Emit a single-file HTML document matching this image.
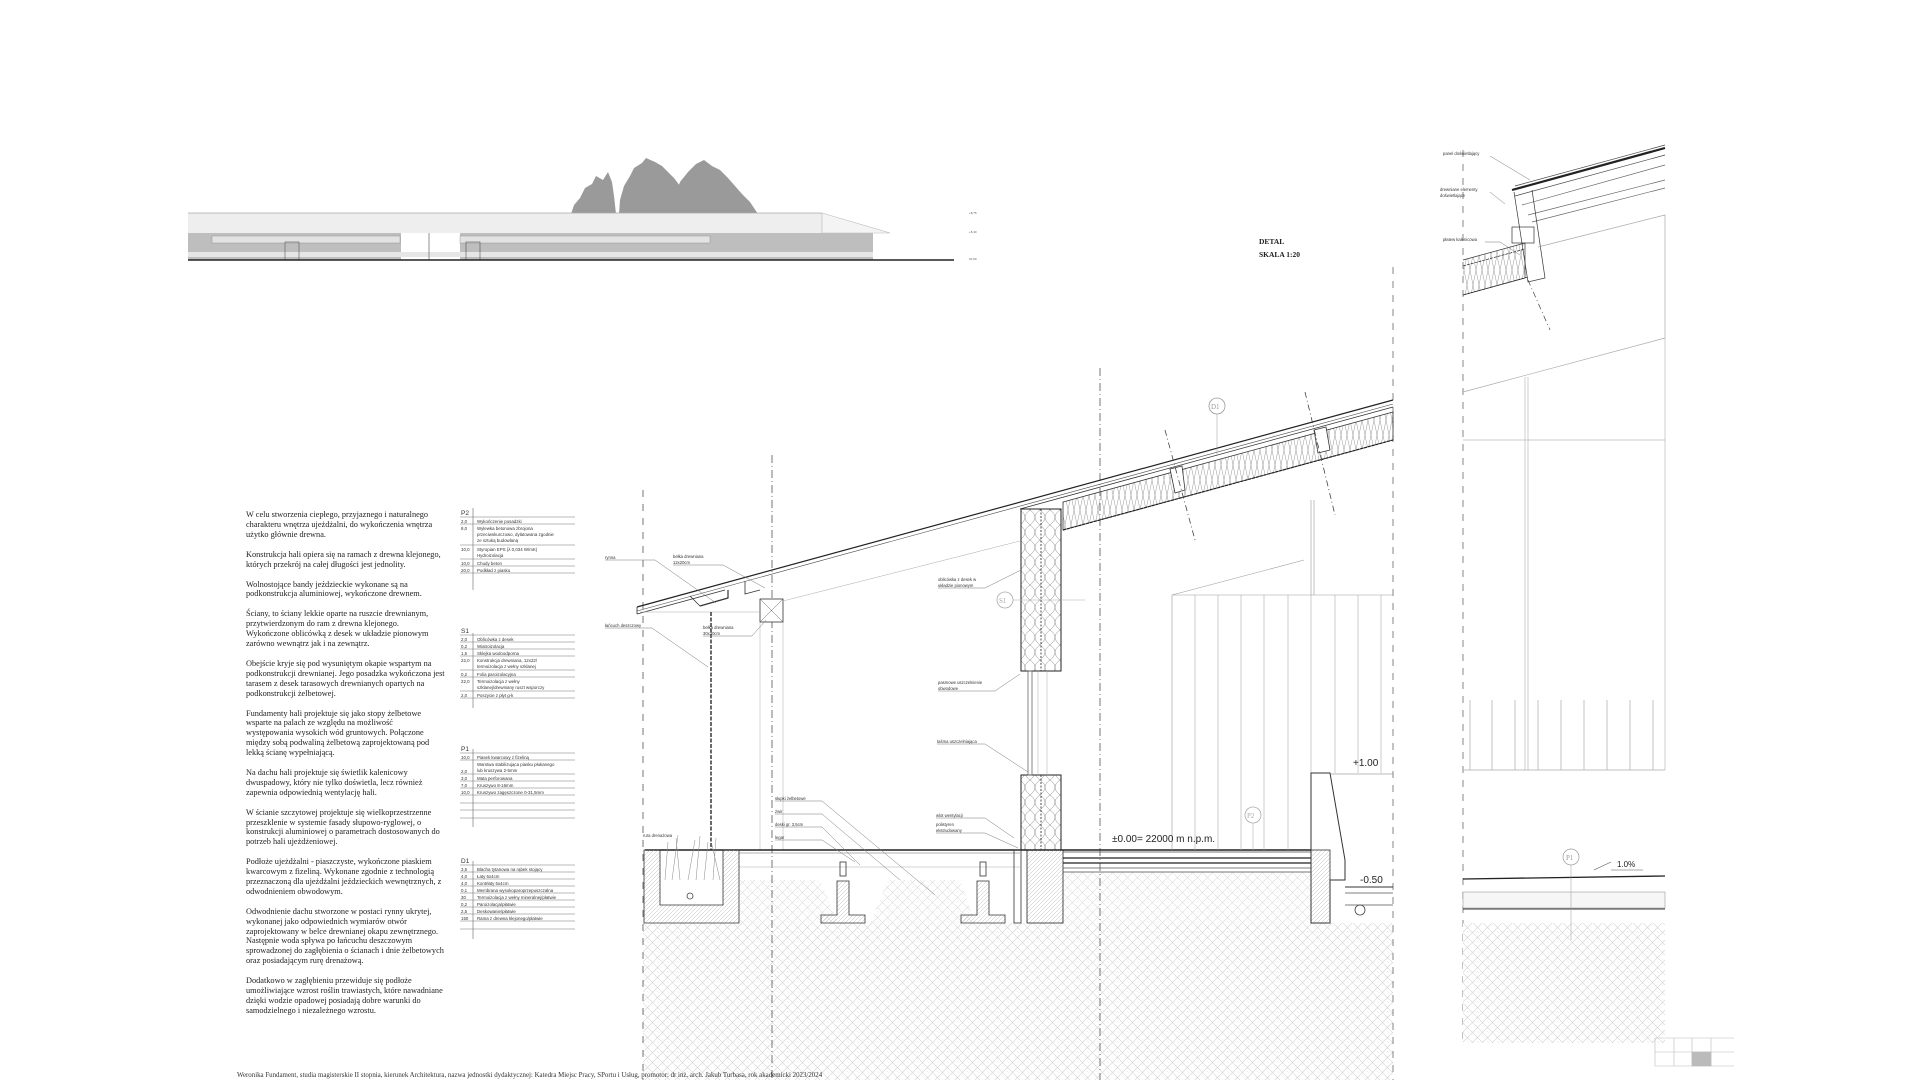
<!DOCTYPE html>
<html><head><meta charset="utf-8">
<style>
html,body{margin:0;padding:0;background:#fff;}
body{width:1920px;height:1080px;overflow:hidden;position:relative;font-family:"Liberation Serif",serif;}
.txt{position:absolute;left:246px;top:510px;width:230px;font-size:8.3px;line-height:9.85px;color:#222;}
.txt p{margin:0 0 10.2px 0;white-space:nowrap;}
svg{position:absolute;left:0;top:0;}
.s{font-family:"Liberation Sans",sans-serif;}
</style></head><body>
<svg width="1920" height="1080" viewBox="0 0 1920 1080">
<defs>
<pattern id="herr" width="10" height="10" patternUnits="userSpaceOnUse">
<rect width="10" height="10" fill="#fff"/>
<path d="M0 5 L5 0 M5 10 L10 5 M0 0 L10 10" stroke="#d2d2d2" stroke-width="0.6" fill="none"/>
<path d="M2 2 L5 5 M7 1 L9 3" stroke="#ddd" stroke-width="0.5"/>
</pattern>
<pattern id="hatch" width="4" height="4" patternUnits="userSpaceOnUse">
<path d="M0 4 L4 0" stroke="#bbb" stroke-width="0.5"/>
</pattern>
<pattern id="ins" width="10" height="30" patternUnits="userSpaceOnUse">
<path d="M0 0 Q10 7 0 15 Q10 22 0 30 M10 0 Q0 7 10 15 Q0 22 10 30" stroke="#888" stroke-width="0.5" fill="none"/>
</pattern>
<pattern id="insr" width="12" height="30" patternUnits="userSpaceOnUse">
<path d="M0 0 L6 30 M12 0 L6 30 M6 0 L0 30 M6 0 L12 30" stroke="#999" stroke-width="0.5" fill="none"/>
</pattern>
<pattern id="vstripe" width="2" height="10" patternUnits="userSpaceOnUse">
<rect width="2" height="10" fill="#f4f4f4"/><line x1="1" y1="0" x2="1" y2="10" stroke="#ddd" stroke-width="0.5"/>
</pattern>
<pattern id="vstripe2" width="2" height="10" patternUnits="userSpaceOnUse">
<rect width="2" height="10" fill="#c4c4c4"/><line x1="1" y1="0" x2="1" y2="10" stroke="#aaa" stroke-width="0.5"/>
</pattern>
</defs>

<!-- ELEVATION -->
<g>
<path d="M571 214 L574 205 L580 198 L585 188 L592 184 L596 176 L603 180 L608 172 L612 182 L614 196 L616 214 Z" fill="#9a9a9a"/>
<path d="M619 214 L620 200 L624 186 L630 176 L634 168 L642 163 L646 158 L655 162 L662 166 L668 172 L674 178 L680 186 L684 200 L686 214 Z" fill="#9a9a9a"/>
<path d="M672 214 L675 196 L680 182 L688 172 L696 164 L704 160 L712 166 L720 170 L728 178 L735 186 L742 194 L750 202 L758 214 Z" fill="#9a9a9a"/>
<rect x="188" y="213" width="634" height="20" fill="url(#vstripe)"/>
<path d="M822 213 L890 233 L822 233 Z" fill="#f4f4f4" stroke="#bbb" stroke-width="0.6"/>
<line x1="188" y1="213" x2="822" y2="213" stroke="#aaa" stroke-width="0.8"/>
<rect x="188" y="233" width="213" height="27" fill="url(#vstripe2)"/>
<rect x="460" y="233" width="413" height="27" fill="url(#vstripe2)"/>
<rect x="212" y="236" width="188" height="7" fill="#e2e2e2" stroke="#888" stroke-width="0.4"/>
<rect x="460" y="236" width="250" height="7" fill="#e2e2e2" stroke="#888" stroke-width="0.4"/>
<rect x="188" y="252" width="685" height="5" fill="#e6e6e6"/>
<line x1="429" y1="233" x2="429" y2="260" stroke="#777" stroke-width="0.8"/>
<rect x="285" y="242" width="14" height="18" fill="none" stroke="#555" stroke-width="0.6"/>
<rect x="466" y="242" width="14" height="18" fill="none" stroke="#555" stroke-width="0.6"/>
<line x1="188" y1="260" x2="954" y2="260" stroke="#222" stroke-width="1.5"/>
<g font-size="3" fill="#555" class="s"><text x="969" y="214">+8,75</text><text x="969" y="233">+5,40</text><text x="969" y="260">±0,00</text></g>
</g>

<!-- DETAL -->
<text x="1259" y="244" font-size="7.5" font-weight="bold" fill="#222">DETAL</text>
<text x="1259" y="257" font-size="7.5" font-weight="bold" fill="#222">SKALA 1:20</text>

<!-- TABLES -->
<g class="s" font-size="4.4" fill="#333" stroke-width="0.6">
<g>
<line x1="473" y1="508" x2="473" y2="590" stroke="#666"/>
<text x="461" y="515" font-size="6.5">P2</text>
<g stroke="#777">
<line x1="460" y1="517" x2="575" y2="517"/><line x1="460" y1="524" x2="575" y2="524"/><line x1="460" y1="545" x2="575" y2="545"/><line x1="460" y1="559" x2="575" y2="559"/><line x1="460" y1="566" x2="575" y2="566"/><line x1="460" y1="573" x2="575" y2="573"/>
</g>
<text x="461" y="523">2,0</text><text x="477" y="523">Wykończenie posadzki</text>
<text x="461" y="530">8,0</text><text x="477" y="530">Wylewka betonowa zbrojona</text><text x="477" y="536">przeciwskurczowo, dylatowana zgodnie</text><text x="477" y="542">ze sztuką budowlaną</text>
<text x="461" y="551">10,0</text><text x="477" y="551">Styropian EPS (λ 0,034 W/mK)</text><text x="477" y="557">Hydroizolacja</text>
<text x="461" y="565">10,0</text><text x="477" y="565">Chudy beton</text>
<text x="461" y="572">20,0</text><text x="477" y="572">Podkład z piasku</text>
</g>

<g transform="translate(0,13)">
<line x1="473" y1="620" x2="473" y2="695" stroke="#666"/>
<text x="461" y="620" font-size="6.5">S1</text>
<g stroke="#777">
<line x1="460" y1="622" x2="575" y2="622"/><line x1="460" y1="629" x2="575" y2="629"/><line x1="460" y1="636" x2="575" y2="636"/><line x1="460" y1="643" x2="575" y2="643"/><line x1="460" y1="657" x2="575" y2="657"/><line x1="460" y1="664" x2="575" y2="664"/><line x1="460" y1="678" x2="575" y2="678"/><line x1="460" y1="685" x2="575" y2="685"/>
</g>
<text x="461" y="628">2,0</text><text x="477" y="628">Oblicówka z desek</text>
<text x="461" y="635">0,2</text><text x="477" y="635">Wiatroizolacja</text>
<text x="461" y="642">1,5</text><text x="477" y="642">Sklejka wodoodporna</text>
<text x="461" y="649">22,0</text><text x="477" y="649">Konstrukcja drewniana, 12x22/</text><text x="477" y="655">termoizolacja z wełny szklanej</text>
<text x="461" y="663">0,2</text><text x="477" y="663">Folia paroizolacyjna</text>
<text x="461" y="670">22,0</text><text x="477" y="670">Termoizolacja z wełny</text><text x="477" y="676">szklanej/drewniany ruszt wsporczy</text>
<text x="461" y="684">2,0</text><text x="477" y="684">Poszycie z płyt g-k</text>
</g>

<g transform="translate(0,25)">
<line x1="473" y1="724" x2="473" y2="802" stroke="#666"/>
<text x="461" y="726" font-size="6.5">P1</text>
<g stroke="#777">
<line x1="460" y1="728" x2="575" y2="728"/><line x1="460" y1="735" x2="575" y2="735"/><line x1="460" y1="749" x2="575" y2="749"/><line x1="460" y1="756" x2="575" y2="756"/><line x1="460" y1="763" x2="575" y2="763"/><line x1="460" y1="770" x2="575" y2="770"/><line x1="460" y1="778" x2="575" y2="778"/><line x1="460" y1="785" x2="575" y2="785"/><line x1="460" y1="793" x2="575" y2="793"/>
</g>
<text x="461" y="734">10,0</text><text x="477" y="734">Piasek kwarcowy z fizeliną</text>
<text x="477" y="741">Warstwa stabilizująca piasku płukanego</text><text x="461" y="748">2,0</text><text x="477" y="747">lub kruszywa 2-5mm</text>
<text x="461" y="755">3,0</text><text x="477" y="755">Mata perforowana</text>
<text x="461" y="762">7,0</text><text x="477" y="762">Kruszywo 8-16mm</text>
<text x="461" y="769">10,0</text><text x="477" y="769">Kruszywo zagęszczone 0-31,5mm</text>
</g>

<g transform="translate(0,32)">
<line x1="473" y1="829" x2="473" y2="907" stroke="#666"/>
<text x="461" y="831" font-size="6.5">D1</text>
<g stroke="#777">
<line x1="460" y1="833" x2="575" y2="833"/><line x1="460" y1="840" x2="575" y2="840"/><line x1="460" y1="847" x2="575" y2="847"/><line x1="460" y1="854" x2="575" y2="854"/><line x1="460" y1="861" x2="575" y2="861"/><line x1="460" y1="868" x2="575" y2="868"/><line x1="460" y1="875" x2="575" y2="875"/><line x1="460" y1="882" x2="575" y2="882"/><line x1="460" y1="889" x2="575" y2="889"/><line x1="460" y1="897" x2="575" y2="897"/>
</g>
<text x="461" y="839">3,5</text><text x="477" y="839">Blacha tytanowa na rąbek stojący</text>
<text x="461" y="846">4,0</text><text x="477" y="846">Łaty 6x4cm</text>
<text x="461" y="853">4,0</text><text x="477" y="853">Kontrłaty 6x4cm</text>
<text x="461" y="860">0,1</text><text x="477" y="860">Membrana wysokoparoprzepuszczalna</text>
<text x="461" y="867">30</text><text x="477" y="867">Termoizolacja z wełny mineralnej/płatwie</text>
<text x="461" y="874">0,2</text><text x="477" y="874">Paroizolacja/płatwie</text>
<text x="461" y="881">2,5</text><text x="477" y="881">Deskowanie/płatwie</text>
<text x="461" y="888">150</text><text x="477" y="888">Rama z drewna klejonego/płatwie</text>
</g>
</g>

<!-- MAIN SECTION -->
<g fill="none" stroke-width="0.8">
<rect x="643" y="923" width="750" height="157" fill="url(#herr)" stroke="none"/>
<path d="M740 923 L740 880 L820 880 L838 923 Z M870 923 L888 880 L960 880 L975 923 Z M1063 923 L1063 872 L1315 872 L1315 923 Z" fill="url(#herr)" stroke="none" opacity="0.8"/>
<line x1="643" y1="490" x2="643" y2="1080" stroke="#555" stroke-dasharray="7 7"/>
<line x1="772" y1="455" x2="772" y2="1080" stroke="#555" stroke-dasharray="8 3 1 3"/>
<line x1="1100" y1="368" x2="1100" y2="1080" stroke="#555" stroke-dasharray="8 3 1 3"/>
<line x1="1393" y1="267" x2="1393" y2="1080" stroke="#666" stroke-dasharray="7 7"/>
<path d="M637 607 L1393 400" stroke="#222" stroke-width="1.2"/>
<path d="M637 611 L1393 404" stroke="#444" stroke-width="0.6"/>
<path d="M637 614 L725 590 M1020 509 L1393 407" stroke="#333"/>
<path d="M1063 502 L1393 412 L1393 440 L1063 530 Z" fill="url(#insr)" stroke="#333"/>
<path d="M1063 530 L1393 440" stroke="#222" stroke-width="1.2" stroke-dasharray="3 1"/>
<path d="M637 607 L637 614 M690 596 L700 606 M745 581 L745 594 L760 590" stroke="#333"/>
<path d="M700 606 L728 598 L728 590" stroke="#333" stroke-width="1.2"/>
<path d="M1170 469 L1182 466 L1185 490 L1175 493 Z M1314 430 L1326 427 L1330 450 L1318 453 Z" stroke="#333" fill="#fff"/>
<line x1="1165" y1="430" x2="1195" y2="540" stroke="#444" stroke-dasharray="6 3 1 3"/>
<line x1="1305" y1="392" x2="1335" y2="515" stroke="#444" stroke-dasharray="6 3 1 3"/>
<circle cx="1217" cy="406" r="8" stroke="#999"/><text x="1211" y="409" font-size="7" fill="#999" stroke="none">D1</text>
<line x1="1217" y1="414" x2="1217" y2="455" stroke="#999" stroke-width="0.5"/>
<rect x="760" y="599" width="23" height="23" stroke="#333" fill="#fff"/>
<path d="M760 599 L783 622 M783 599 L760 622" stroke="#666" stroke-width="0.5"/>
<line x1="760" y1="622" x2="760" y2="850" stroke="#aaa" stroke-width="0.5"/>
<line x1="783" y1="622" x2="783" y2="850" stroke="#aaa" stroke-width="0.5"/>
<line x1="783" y1="601" x2="1020" y2="541" stroke="#aaa" stroke-width="0.5"/>
<line x1="640" y1="612" x2="760" y2="612" stroke="#aaa" stroke-width="0.5"/>
<line x1="711" y1="612" x2="711" y2="850" stroke="#444" stroke-width="1.6" stroke-dasharray="4 1.5"/>
<rect x="1021" y="509" width="40" height="162" fill="url(#ins)" stroke="#222" stroke-width="1"/>
<line x1="1041" y1="509" x2="1041" y2="671" stroke="#222" stroke-dasharray="2 1.5"/>
<rect x="1021" y="775" width="40" height="75" fill="url(#ins)" stroke="#222" stroke-width="1"/>
<line x1="1041" y1="775" x2="1041" y2="850" stroke="#222" stroke-dasharray="2 1.5"/>
<rect x="1028" y="671" width="4" height="104" stroke="#666"/>
<line x1="1038" y1="671" x2="1038" y2="775" stroke="#aaa" stroke-width="0.5"/>
<line x1="1047" y1="671" x2="1047" y2="775" stroke="#aaa" stroke-width="0.5"/>
<circle cx="1005" cy="600" r="8" stroke="#aaa"/><text x="999" y="603" font-size="7" fill="#aaa" stroke="none">S1</text>
<line x1="1013" y1="600" x2="1085" y2="600" stroke="#aaa" stroke-width="0.5"/>
<line x1="645" y1="850" x2="1315" y2="850" stroke="#222" stroke-width="1.4"/>
<line x1="739" y1="853" x2="1020" y2="853" stroke="#666" stroke-width="0.5"/>
<line x1="739" y1="867" x2="1020" y2="867" stroke="#aaa" stroke-width="0.5"/>
<path d="M644 850 L644 923 L739 923 L739 850 L723 850 L723 905 L660 905 L660 850 Z" fill="url(#hatch)" stroke="#333"/>
<path d="M665 880 L668 842 M672 880 L678 835 M680 880 L676 838 M688 880 L695 840 M696 880 L700 836 M704 880 L708 842 M713 880 L716 838 M720 880 L712 845" stroke="#888" stroke-width="0.5"/>
<circle cx="690" cy="896" r="3" stroke="#444"/>
<path d="M821 923 L821 915 L837 915 L837 881 L849 881 L849 915 L865 915 L865 923 Z" fill="url(#hatch)" stroke="#333"/>
<path d="M961 923 L961 915 L977 915 L977 881 L989 881 L989 915 L1005 915 L1005 923 Z" fill="url(#hatch)" stroke="#333"/>
<rect x="840" y="862" width="6" height="14" stroke="#333"/><rect x="980" y="862" width="6" height="14" stroke="#333"/>
<rect x="1014" y="850" width="7" height="73" stroke="#333"/>
<rect x="1027" y="850" width="36" height="73" fill="url(#hatch)" stroke="#222"/>
<rect x="1063" y="852" width="252" height="20" stroke="#555"/>
<line x1="1063" y1="858" x2="1315" y2="858" stroke="#222" stroke-width="1.2"/>
<line x1="1063" y1="863" x2="1315" y2="863" stroke="#222" stroke-width="1.2"/>
<line x1="1063" y1="868" x2="1315" y2="868" stroke="#555"/>
<path d="M1172 850 L1172 595 L1393 595 M1172 595 L1304 560 M1311 500 L1311 595 M1314 500 L1314 595" stroke="#999" stroke-width="0.6"/>
<g stroke="#aaa" stroke-width="0.6">
<line x1="1195" y1="595" x2="1195" y2="850"/><line x1="1218" y1="595" x2="1218" y2="850"/><line x1="1241" y1="595" x2="1241" y2="850"/><line x1="1264" y1="595" x2="1264" y2="850"/><line x1="1288" y1="595" x2="1288" y2="850"/><line x1="1311" y1="595" x2="1311" y2="773"/><line x1="1335" y1="595" x2="1335" y2="773"/><line x1="1358" y1="595" x2="1358" y2="773"/><line x1="1381" y1="595" x2="1381" y2="773"/>
</g>
<path d="M1311 923 L1311 773 L1330 773 L1345 860 L1345 880 L1330 880 L1330 923 Z" fill="#fff" stroke="#333" stroke-width="1"/>
<rect x="1311" y="850" width="19" height="73" fill="url(#hatch)" stroke="#333"/>
<path d="M1345 893 L1393 893 M1345 905 L1393 905" stroke="#555"/>
<circle cx="1360" cy="910" r="5" stroke="#444"/>
<circle cx="1253" cy="815" r="8" stroke="#aaa"/><text x="1247" y="818" font-size="7" fill="#aaa" stroke="none">P2</text>
<line x1="1253" y1="823" x2="1253" y2="850" stroke="#aaa" stroke-width="0.5"/>
<line x1="1330" y1="774" x2="1393" y2="774" stroke="#777" stroke-width="0.6"/>
<line x1="1345" y1="887" x2="1393" y2="887" stroke="#333" stroke-width="1"/>
</g>
<g class="s" fill="#222">
<text x="1112" y="842" font-size="10">±0.00= 22000 m n.p.m.</text>
<text x="1353" y="766" font-size="10">+1.00</text>
<text x="1360" y="883" font-size="10">-0.50</text>
</g>
<g class="s" font-size="4.2" fill="#333">
<text x="605" y="559">rynna</text>
<text x="673" y="558">bełka drewniana</text><text x="673" y="564">12x20cm</text>
<text x="605" y="627">łańcuch deszczowy</text>
<text x="703" y="629">bełka drewniana</text><text x="703" y="635">30x30cm</text>
<text x="938" y="581">oblicówka z desek w</text><text x="938" y="587">układzie pionowym</text>
<text x="938" y="684">pasmowe uszczelnienie</text><text x="938" y="690">obwodowe</text>
<text x="937" y="743">taśma uszczelniająca</text>
<text x="775" y="800">słupki żelbetowe</text>
<text x="775" y="813">żwir</text>
<text x="775" y="826">deski gr. 3,5cm</text>
<text x="775" y="839">legar</text>
<text x="643" y="837">rura drenażowa</text>
<text x="936" y="817">wlot wentylacji</text>
<text x="936" y="826">polistyren</text><text x="936" y="832">ekstrudowany</text>
</g>
<g stroke="#777" stroke-width="0.5" fill="none">
<path d="M605 560 L655 560 L716 603"/><path d="M673 565 L723 565 L765 588"/><path d="M605 628 L652 628 L708 667"/>
<path d="M703 636 L752 636 L766 620"/><path d="M938 588 L985 588 L1021 570"/><path d="M938 691 L995 691 L1020 674"/>
<path d="M937 744 L985 744 L1028 772"/><path d="M775 801 L822 801 L935 895"/><path d="M775 814 L822 814 L900 880"/>
<path d="M775 827 L822 827 L860 865"/><path d="M775 840 L822 840 L855 862"/><path d="M936 818 L985 818 L1014 838"/><path d="M936 833 L985 833 L1018 848"/>
</g>

<!-- RIGHT DETAIL -->
<g fill="none" stroke-width="0.7">
<line x1="1463" y1="150" x2="1463" y2="1043" stroke="#555" stroke-dasharray="7 7"/>
<path d="M1512 190 L1665 148" stroke="#222" stroke-width="2.2"/>
<path d="M1515 186 L1665 145 M1515 196 L1665 155" stroke="#444"/>
<path d="M1522 205 L1665 165 M1528 215 L1665 180 M1532 222 L1665 188" stroke="#666"/>
<path d="M1514 192 L1528 282 L1545 278 L1532 190" stroke="#333"/>
<rect x="1512" y="227" width="22" height="16" stroke="#333"/>
<path d="M1463 260 L1525 243 L1525 278 L1463 295" fill="url(#insr)" stroke="#333"/>
<path d="M1463 266 L1525 249 M1463 295 L1528 277" stroke="#222" stroke-dasharray="3 1"/>
<line x1="1528" y1="280" x2="1550" y2="330" stroke="#444" stroke-dasharray="6 3 1 3"/>
<path d="M1538 247 L1665 215 L1665 338 M1463 392 L1665 338" stroke="#aaa"/>
<path d="M1525 377 L1525 770 M1528 377 L1528 770 M1463 440 L1665 440 M1665 338 L1665 770" stroke="#bbb"/>
<g stroke="#aaa"><line x1="1470" y1="700" x2="1470" y2="770"/><line x1="1492" y1="700" x2="1492" y2="770"/><line x1="1515" y1="700" x2="1515" y2="770"/><line x1="1538" y1="700" x2="1538" y2="770"/><line x1="1561" y1="700" x2="1561" y2="770"/><line x1="1584" y1="700" x2="1584" y2="770"/><line x1="1607" y1="700" x2="1607" y2="770"/><line x1="1630" y1="700" x2="1630" y2="770"/><line x1="1653" y1="700" x2="1653" y2="770"/></g>
<line x1="1463" y1="770" x2="1665" y2="770" stroke="#aaa"/>
<line x1="1463" y1="879" x2="1665" y2="876" stroke="#222" stroke-width="1.3"/>
<rect x="1463" y="892" width="202" height="16" fill="#f6f6f6" stroke="#888" stroke-width="0.5"/>
<line x1="1463" y1="909" x2="1665" y2="909" stroke="#333" stroke-width="1"/>
<rect x="1463" y="923" width="202" height="120" fill="url(#herr)" stroke="none"/>
<circle cx="1571" cy="857" r="8" stroke="#999"/><text x="1566" y="860" font-size="7" fill="#999" stroke="none">P1</text>
<line x1="1571" y1="865" x2="1571" y2="940" stroke="#999" stroke-width="0.5"/>
<path d="M1594 870 L1611 862 M1611 870 L1643 870" stroke="#555" stroke-width="0.6"/>
</g>
<text x="1617" y="867" font-size="8" class="s" fill="#222">1.0%</text>
<g class="s" font-size="4.2" fill="#333">
<text x="1443" y="155">panel doświetlający</text>
<text x="1440" y="191">drewniane elementy</text><text x="1440" y="197">doświetlające</text>
<text x="1443" y="241">płatew kalenicowa</text>
</g>
<g stroke="#777" stroke-width="0.5" fill="none"><path d="M1490 156 L1530 180"/><path d="M1490 192 L1505 204"/><path d="M1485 242 L1500 242 L1520 255"/></g>
<g stroke="#bbb" stroke-width="0.6" fill="none">
<rect x="1692" y="1052" width="19" height="14" fill="#bbb"/>
<path d="M1655 1038 L1734 1038 M1655 1052 L1734 1052 M1655 1066 L1734 1066 M1655 1038 L1655 1066 M1674 1038 L1674 1066 M1692 1038 L1692 1066 M1711 1038 L1711 1066"/>
</g>
<text x="237" y="1077" font-size="6.9" fill="#333">Weronika Fundament, studia magisterskie II stopnia, kierunek Architektura, nazwa jednostki dydaktycznej: Katedra Miejsc Pracy, SPortu i Usług, promotor: dr inż. arch. Jakub Turbasa, rok akademicki 2023/2024</text>
</svg>

<div class="txt">
<p>W celu stworzenia ciepłego, przyjaznego i naturalnego<br>charakteru wnętrza ujeżdżalni, do wykończenia wnętrza<br>użytko głównie drewna.</p>
<p>Konstrukcja hali opiera się na ramach z drewna klejonego,<br>których przekrój na całej długości jest jednolity.</p>
<p>Wolnostojące bandy jeździeckie wykonane są na<br>podkonstrukcja aluminiowej, wykończone drewnem.</p>
<p>Ściany, to ściany lekkie oparte na ruszcie drewnianym,<br>przytwierdzonym do ram z drewna klejonego.<br>Wykończone oblicówką z desek w układzie pionowym<br>zarówno wewnątrz jak i na zewnątrz.</p>
<p>Obejście kryje się pod wysuniętym okapie wspartym na<br>podkonstrukcji drewnianej. Jego posadzka wykończona jest<br>tarasem z desek tarasowych drewnianych opartych na<br>podkonstrukcji żelbetowej.</p>
<p>Fundamenty hali projektuje się jako stopy żelbetowe<br>wsparte na palach ze względu na możliwość<br>występowania wysokich wód gruntowych. Połączone<br>między sobą podwaliną żelbetową zaprojektowaną pod<br>lekką ścianę wypełniającą.</p>
<p>Na dachu hali projektuje się świetlik kalenicowy<br>dwuspadowy, który nie tylko doświetla, lecz również<br>zapewnia odpowiednią wentylację hali.</p>
<p>W ścianie szczytowej projektuje się wielkoprzestrzenne<br>przeszklenie w systemie fasady słupowo-ryglowej, o<br>konstrukcji aluminiowej o parametrach dostosowanych do<br>potrzeb hali ujeżdżeniowej.</p>
<p>Podłoże ujeżdżalni - piaszczyste, wykończone piaskiem<br>kwarcowym z fizeliną. Wykonane zgodnie z technologią<br>przeznaczoną dla ujeżdżalni jeździeckich wewnętrznych, z<br>odwodnieniem obwodowym.</p>
<p>Odwodnienie dachu stworzone w postaci rynny ukrytej,<br>wykonanej jako odpowiednich wymiarów otwór<br>zaprojektowany w belce drewnianej okapu zewnętrznego.<br>Następnie woda spływa po łańcuchu deszczowym<br>sprowadzonej do zagłębienia o ścianach i dnie żelbetowych<br>oraz posiadającym rurę drenażową.</p>
<p>Dodatkowo w zagłębieniu przewiduje się podłoże<br>umożliwiające wzrost roślin trawiastych, które nawadniane<br>dzięki wodzie opadowej posiadają dobre warunki do<br>samodzielnego i niezależnego wzrostu.</p>
</div>
</body></html>
